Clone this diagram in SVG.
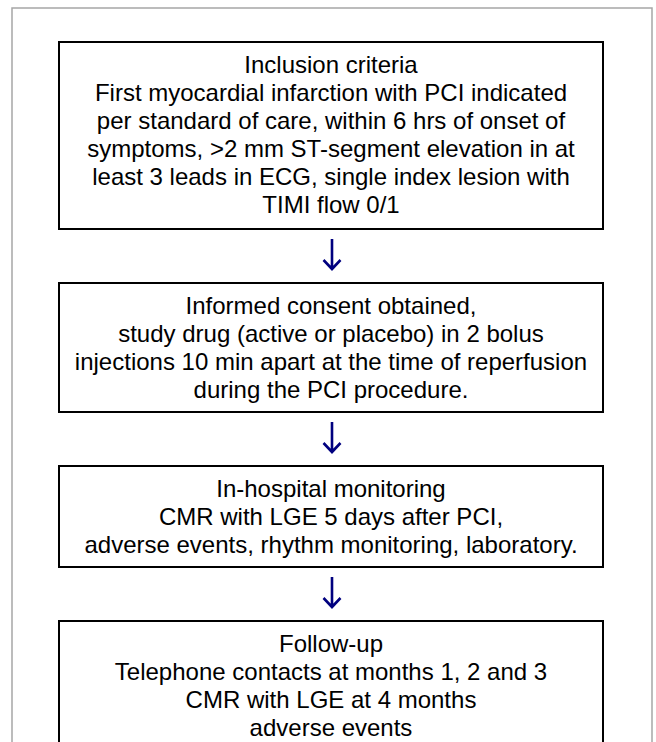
<svg xmlns="http://www.w3.org/2000/svg" width="656" height="742" viewBox="0 0 656 742">
<defs>
<style>
.frame{fill:none;stroke:#a6a6a6;stroke-width:1.5}
.box{fill:#fff;stroke:#000;stroke-width:2}
.t{font-family:"Liberation Sans",Arial,sans-serif;font-size:24px;fill:#000;text-anchor:middle}
.arr{fill:none;stroke:#00007f;stroke-width:2.6;stroke-linecap:butt;stroke-linejoin:miter}
</style>
</defs>
<rect width="656" height="742" fill="#fff"/>
<rect class="frame" x="12" y="8" width="640" height="760"/>
<g id="node1">
<rect class="box" x="59" y="42" width="544" height="187"/>
<text class="t" x="331" y="73">Inclusion criteria</text>
<text class="t" x="331" y="101">First myocardial infarction with PCI indicated</text>
<text class="t" x="331" y="129">per standard of care, within 6 hrs of onset of</text>
<text class="t" x="331" y="157">symptoms, &gt;2 mm ST-segment elevation in at</text>
<text class="t" x="331" y="185">least 3 leads in ECG, single index lesion with</text>
<text class="t" x="331" y="213">TIMI flow 0/1</text>
</g>
<g id="node2">
<rect class="box" x="59" y="283" width="544" height="129"/>
<text class="t" x="331" y="314">Informed consent obtained,</text>
<text class="t" x="331" y="342">study drug (active or placebo) in 2 bolus</text>
<text class="t" x="331" y="370">injections 10 min apart at the time of reperfusion</text>
<text class="t" x="331" y="398">during the PCI procedure.</text>
</g>
<g id="node3">
<rect class="box" x="59" y="466" width="544" height="101"/>
<text class="t" x="331" y="497">In-hospital monitoring</text>
<text class="t" x="331" y="525">CMR with LGE 5 days after PCI,</text>
<text class="t" x="331" y="553">adverse events, rhythm monitoring, laboratory.</text>
</g>
<g id="node4">
<rect class="box" x="59" y="621" width="544" height="150"/>
<text class="t" x="331" y="652">Follow-up</text>
<text class="t" x="331" y="680">Telephone contacts at months 1, 2 and 3</text>
<text class="t" x="331" y="708">CMR with LGE at 4 months</text>
<text class="t" x="331" y="736">adverse events</text>
</g>
<g id="connectors">
<path class="arr" d="M332 239V269M323.5 260L332 269L340.5 260"/>
<path class="arr" d="M332 422V452M323.5 443L332 452L340.5 443"/>
<path class="arr" d="M332 577V607M323.5 598L332 607L340.5 598"/>
</g>
</svg>
